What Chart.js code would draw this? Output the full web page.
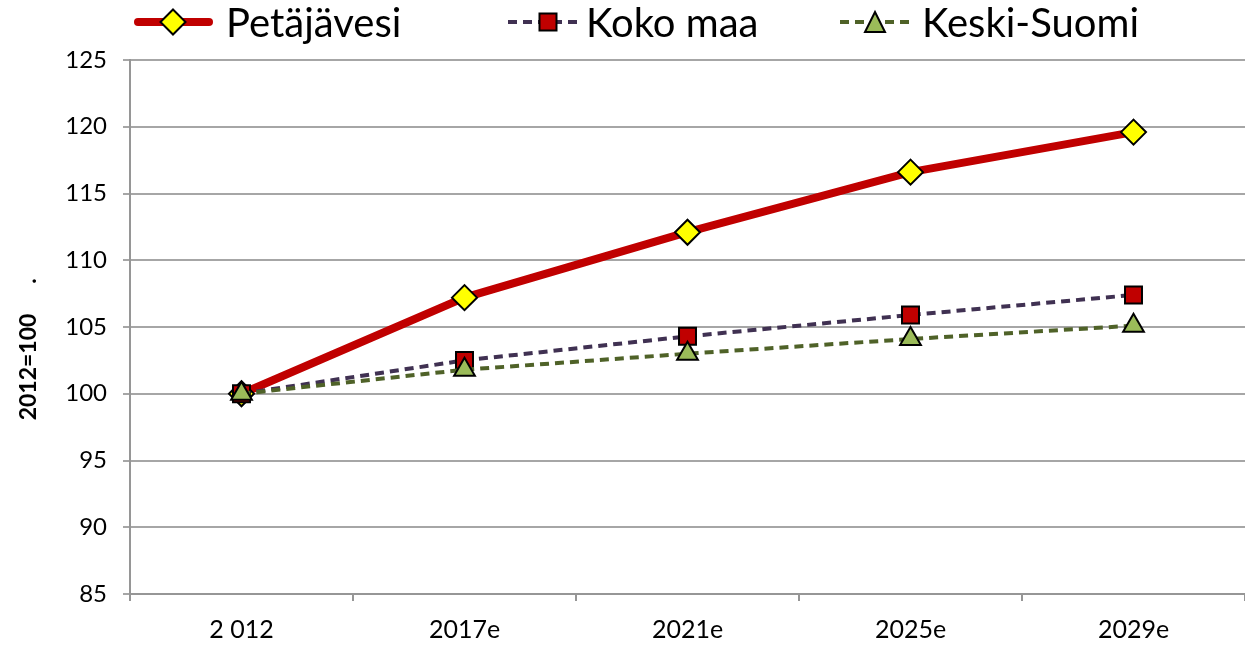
<!DOCTYPE html>
<html>
<head>
<meta charset="utf-8">
<script src="https://cdn.jsdelivr.net/npm/chart.js@4.4.1/dist/chart.umd.min.js"></script>
<style>
html,body{margin:0;padding:0;background:#fff;overflow:hidden;}
#wrap{width:1245px;height:652px;position:relative;}
canvas{display:block;}
</style>
</head>
<body>
<div id="wrap"><canvas id="c" width="1245" height="652"></canvas></div>
<script>
const categories = ["2 012", "2017e", "2021e", "2025e", "2029e"];
const petajavesi = [100, 107.2, 112.1, 116.6, 119.6];
const kokoMaa = [100, 102.5, 104.3, 105.9, 107.4];
const keskiSuomi = [100, 101.8, 103.0, 104.1, 105.1];
const seriesNames = ["Petäjävesi", "Koko maa", "Keski-Suomi"];
const yMin = 85, yMax = 125, yStep = 5;
const yAxisTitle = "2012=100";

const FONT = "Lato, 'Open Sans', sans-serif";

function drawMarker(ctx, style, x, y) {
  ctx.save();
  ctx.lineWidth = 2;
  ctx.strokeStyle = '#000';
  ctx.beginPath();
  if (style === 'diamond') {
    const r = 12.5;
    ctx.moveTo(x, y - r); ctx.lineTo(x + r, y); ctx.lineTo(x, y + r); ctx.lineTo(x - r, y); ctx.closePath();
    ctx.fillStyle = '#ffff00';
  } else if (style === 'square') {
    const r = 8.5;
    ctx.rect(x - r, y - r, 2 * r, 2 * r);
    ctx.fillStyle = '#c00000';
  } else {
    const r = 10;
    ctx.moveTo(x, y - r); ctx.lineTo(x + r, y + r); ctx.lineTo(x - r, y + r); ctx.closePath();
    ctx.fillStyle = '#9bbb59';
  }
  ctx.fill(); ctx.stroke();
  ctx.restore();
}

const legendPlugin = {
  id: 'customLegend',
  afterDraw(chart) {
    const ctx = chart.ctx;
    const items = [
      {name: seriesNames[0], x0: 138, x1: 209, mx: 173, color: '#c00000', width: 8, dash: [], marker: 'diamond', tx: 226},
      {name: seriesNames[1], x0: 508, x1: 578, mx: 548, color: '#403152', width: 4, dash: [9, 6], marker: 'square', tx: 586},
      {name: seriesNames[2], x0: 840, x1: 910, mx: 875, color: '#4f6228', width: 4, dash: [9, 6], marker: 'triangle', tx: 922}
    ];
    const y = 22;
    ctx.save();
    items.forEach(it => {
      ctx.strokeStyle = it.color;
      ctx.lineWidth = it.width;
      ctx.lineCap = it.dash.length ? 'butt' : 'round';
      ctx.setLineDash(it.dash);
      ctx.beginPath(); ctx.moveTo(it.x0, y); ctx.lineTo(it.x1, y); ctx.stroke();
      ctx.setLineDash([]);
      drawMarker(ctx, it.marker, it.mx, y);
      ctx.fillStyle = '#000';
      ctx.font = "40px " + FONT;
      ctx.textBaseline = 'middle';
      ctx.textAlign = 'left';
      ctx.fillText(it.name, it.tx, y + 2);
    });
    // Y axis title
    ctx.translate(29, 367);
    ctx.rotate(-Math.PI / 2);
    ctx.font = "bold 23px " + FONT;
    ctx.textAlign = 'center';
    ctx.textBaseline = 'middle';
    ctx.fillText(yAxisTitle, 0, 0);
    ctx.fillText(".", 86, 0);
    ctx.restore();
  }
};

new Chart(document.getElementById('c'), {
  type: 'line',
  data: {
    labels: categories,
    datasets: [
      {label: seriesNames[0], data: petajavesi, borderColor: '#c00000', borderWidth: 8,
       pointStyle: 'rectRot', pointRadius: 12.5, pointBackgroundColor: '#ffff00', pointBorderColor: '#000', pointBorderWidth: 2,
       tension: 0, order: 2},
      {label: seriesNames[1], data: kokoMaa, borderColor: '#403152', borderWidth: 4, borderDash: [9, 6],
       pointStyle: 'rect', pointRadius: 12, pointBackgroundColor: '#c00000', pointBorderColor: '#000', pointBorderWidth: 2,
       tension: 0, order: 1},
      {label: seriesNames[2], data: keskiSuomi, borderColor: '#4f6228', borderWidth: 4, borderDash: [9, 6],
       pointStyle: 'triangle', pointRadius: 12, pointBackgroundColor: '#9bbb59', pointBorderColor: '#000', pointBorderWidth: 2,
       tension: 0, order: 0}
    ]
  },
  options: {
    responsive: false,
    animation: false,
    devicePixelRatio: 1,
    layout: {autoPadding: false, padding: {top: 60, right: 0, bottom: 0, left: 0}},
    plugins: {legend: {display: false}, tooltip: {enabled: false}, title: {display: false}},
    scales: {
      x: {
        type: 'category',
        offset: true,
        grid: {offset: true, drawOnChartArea: false, drawTicks: true, tickLength: 7, color: '#969696', lineWidth: 2},
        border: {display: true, color: '#969696', width: 2},
        ticks: {font: {size: 25, family: FONT}, color: '#000', padding: 14, maxRotation: 0},
        afterFit(scale) { scale.height = 58; scale.paddingLeft = 0; scale.paddingRight = 0; }
      },
      y: {
        min: yMin, max: yMax,
        grid: {drawOnChartArea: true, drawTicks: true, tickLength: 7, color: '#a6a6a6', lineWidth: 2},
        border: {display: true, color: '#969696', width: 2},
        ticks: {stepSize: yStep, font: {size: 24, family: FONT}, color: '#000', padding: 16},
        afterFit(scale) { scale.width = 130; }
      }
    }
  },
  plugins: [legendPlugin]
});
</script>
</body>
</html>
